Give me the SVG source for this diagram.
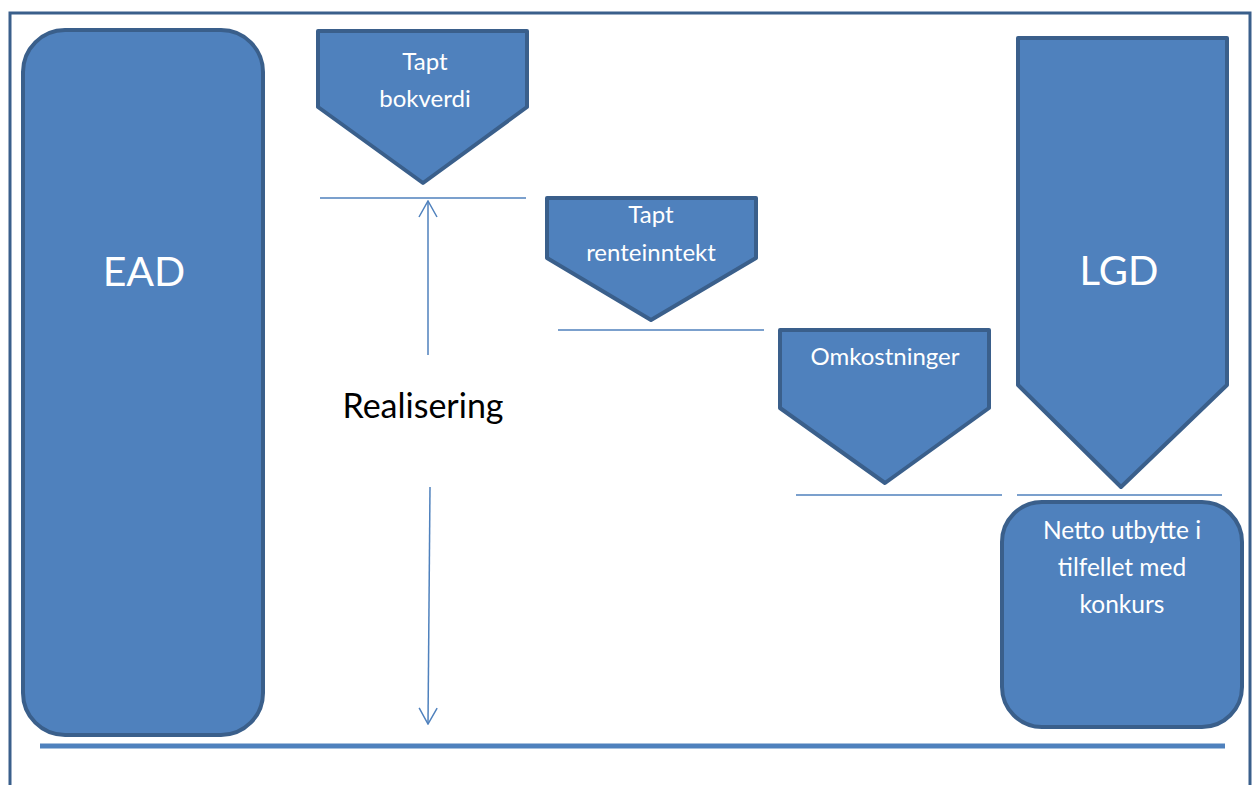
<svg xmlns="http://www.w3.org/2000/svg" width="1253" height="785" viewBox="0 0 1253 785">
<style>
.shape{fill:#4f81bd;stroke:#3a5f8b;stroke-width:4;stroke-linejoin:round}
.lbl{fill:#ffffff;font-family:Lato,"Liberation Sans",sans-serif;text-anchor:middle}
.ln{stroke:#4f81bd;stroke-width:1.5;fill:none}
</style>
<defs>
<marker id="open" viewBox="0 0 20 20" refX="19" refY="10" markerWidth="20" markerHeight="20" markerUnits="userSpaceOnUse" orient="auto">
<path d="M3,1 L19,10 L3,19" fill="none" stroke="#4f81bd" stroke-width="1.5"/>
</marker>
</defs>
<rect width="1253" height="785" fill="#ffffff"/>
<path d="M10,790 V13 H1250 V790" fill="none" stroke="#3a5f8b" stroke-width="3"/>
<line x1="40" y1="746" x2="1225" y2="746" stroke="#4f81bd" stroke-width="5"/>
<g id="ead">
<rect class="shape" x="23" y="30" width="240" height="705" rx="42"/>
<text class="lbl" x="144" y="286" font-size="41">EAD</text>
</g>
<g id="tapt-bokverdi">
<path class="shape" d="M318,31 H527 V107 L423,183 L318,107 Z"/>
<text class="lbl" x="425" y="70" font-size="24">Tapt</text>
<text class="lbl" x="425" y="107" font-size="24">bokverdi</text>
</g>
<g id="tapt-renteinntekt">
<path class="shape" d="M547,198 H756 V258 L651,320 L547,258 Z"/>
<text class="lbl" x="651" y="223" font-size="24">Tapt</text>
<text class="lbl" x="651" y="261" font-size="24">renteinntekt</text>
</g>
<g id="omkostninger">
<path class="shape" d="M780,330 H989 V408 L885,483 L780,408 Z"/>
<text class="lbl" x="885" y="365" font-size="24">Omkostninger</text>
</g>
<g id="lgd">
<path class="shape" d="M1018,38 H1227 V385 L1121,487 L1018,385 Z"/>
<text class="lbl" x="1119" y="285" font-size="40">LGD</text>
</g>
<g id="netto">
<rect class="shape" x="1002" y="502" width="240" height="225" rx="40"/>
<text class="lbl" x="1122" y="539" font-size="24.5">Netto utbytte i</text>
<text class="lbl" x="1122" y="576" font-size="24.5">tilfellet med</text>
<text class="lbl" x="1122" y="613" font-size="24.5">konkurs</text>
</g>
<g id="realisering">
<text x="423" y="418" font-size="34" fill="#000000" font-family="Lato,'Liberation Sans',sans-serif" text-anchor="middle">Realisering</text>
</g>
<g id="connectors">
<line class="ln" x1="320" y1="198" x2="526" y2="198"/>
<line class="ln" x1="558" y1="330" x2="764" y2="330"/>
<line class="ln" x1="796" y1="495" x2="1002" y2="495"/>
<line class="ln" x1="1017" y1="495" x2="1222" y2="495"/>
<line class="ln" x1="428" y1="355" x2="428" y2="201" marker-end="url(#open)"/>
<line class="ln" x1="430" y1="487" x2="428" y2="724" marker-end="url(#open)"/>
</g>
</svg>
